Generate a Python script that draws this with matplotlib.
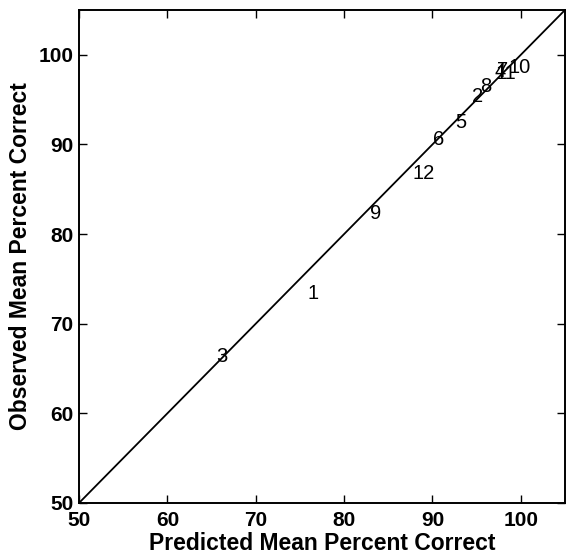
import matplotlib

matplotlib.use("Agg")

import matplotlib.pyplot as plt
import numpy as np

plt.rcParams["font.family"] = ["Liberation Sans", "DejaVu Sans"]

# condition labels with predicted / observed mean percent correct
labels = ["1", "2", "3", "4", "5", "6", "7", "8", "9", "10", "11", "12"]
predicted = [76.5, 95.1, 66.2, 97.6, 93.2, 90.7, 97.9, 96.0, 83.6, 99.9, 98.3, 89.0]
observed = [73.4, 95.4, 66.3, 98.1, 92.5, 90.5, 98.3, 96.5, 82.3, 98.6, 97.9, 86.7]

ticks = [50, 60, 70, 80, 90, 100]
lo, hi = 50, 105

fig = plt.figure(figsize=(5.66, 5.59), dpi=100)
ax = fig.add_axes([0.1396, 0.1002, 0.8587, 0.882])

ax.plot([lo, hi], [lo, hi], color="black", linewidth=1.3)
for lab, px, oy in zip(labels, predicted, observed):
    ax.text(px, oy, lab, ha="center", va="center", fontsize=14.5, color="black")

ax.set_xlim(lo, hi)
ax.set_ylim(lo, hi)
ax.set_xticks(ticks)
ax.set_yticks(ticks)
ax.tick_params(direction="in", top=True, right=True, length=6, width=1,
               labelsize=15)
ax.tick_params(axis="x", pad=6)
ax.tick_params(axis="y", pad=4)
for lbl in ax.get_xticklabels() + ax.get_yticklabels():
    lbl.set_fontweight("bold")
for spine in ax.spines.values():
    spine.set_linewidth(1.4)

ax.set_xlabel("Predicted Mean Percent Correct", fontsize=16.5, fontweight="bold", labelpad=1)
ax.set_ylabel("Observed Mean Percent Correct", fontsize=16.5, fontweight="bold", labelpad=5)

fig.savefig("out.png", dpi=100)
